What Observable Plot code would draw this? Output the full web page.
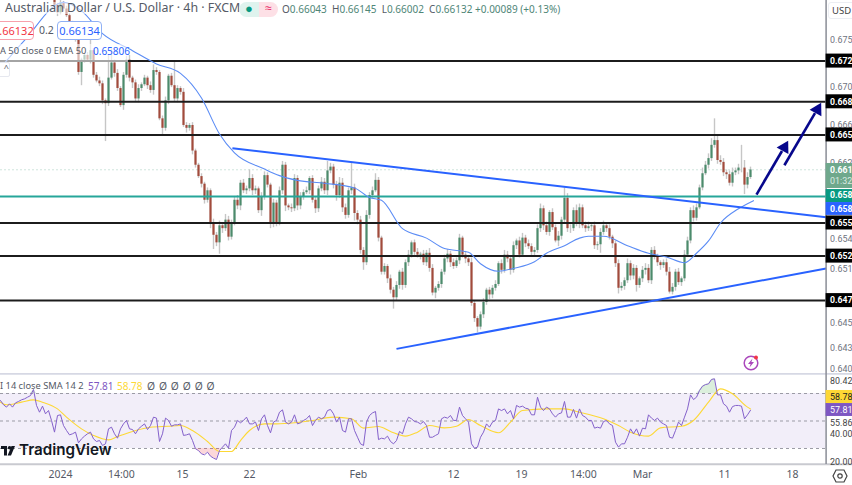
<!DOCTYPE html>
<html>
<head>
<meta charset="utf-8">
<script src="https://cdn.jsdelivr.net/npm/d3@7"></script>
<script src="https://cdn.jsdelivr.net/npm/@observablehq/plot@0.6"></script>
<style>
  html, body { margin: 0; padding: 0; background: #fff; overflow: hidden; width: 852px; height: 485px; }
  #wrap { position: relative; width: 852px; height: 485px; font-family: "Noto Sans", sans-serif; }
  #wrap svg { display: block; }
  .lab { position: absolute; white-space: nowrap; line-height: 1; }
</style>
</head>
<body>
<div id="wrap">
  <div id="chart_price"></div>
  <div id="chart_rsi"></div>

  <div class="lab" style="left:5px;top:2px;font-size:12.4px;color:#555a66;background:rgba(255,255,255,.55)">Australian Dollar / U.S. Dollar · 4h · FXCM</div>
  <div class="lab" style="left:239px;top:2px;width:20px;height:15px;background:#dff3ee;border-radius:8px 0 0 8px;text-align:center;color:#089981;font-size:13px">●</div>
  <div class="lab" style="left:259px;top:2px;width:19px;height:15px;background:#fde0e6;border-radius:0 8px 8px 0;text-align:center;color:#e91e63;font-size:12px">≈</div>
  <div class="lab" style="left:282px;top:4px;font-size:10px;color:#4f8677">
    <span style="color:#555a66">O</span>0.66043 <span style="color:#555a66">&nbsp;H</span>0.66145 <span style="color:#555a66">&nbsp;L</span>0.66002 <span style="color:#555a66">&nbsp;C</span>0.66132 +0.00089 (+0.13%)
  </div>

  <div class="lab" style="left:-8px;top:21px;width:39px;height:17px;line-height:17px;border:1px solid #f7a1ac;border-radius:4px;background:#fff;color:#f23645;font-size:11px;text-align:right;padding-right:1px">0.66132</div>
  <div class="lab" style="left:39px;top:25px;font-size:10.5px;color:#555a66">0.2</div>
  <div class="lab" style="left:57px;top:21px;width:43px;height:17px;line-height:17px;border:1px solid #8fb0f5;border-radius:4px;background:#fff;color:#2962ff;font-size:11px;text-align:center">0.66134</div>
  <div class="lab" style="left:0;top:44px;width:128px;height:18px;background:rgba(255,255,255,.6)"></div>
  <div class="lab" style="left:0;top:46px;font-size:9.3px;color:#555a66">A 50 close 0 EMA 50</div>
  <div class="lab" style="left:93px;top:46px;font-size:10px;color:#2962ff">0.65806</div>
  <div class="lab" style="left:-10px;top:62px;width:18px;height:13px;border:1px solid #e6e8ef;border-radius:2px;background:#fff;color:#555a66;font-size:9px;text-align:right">^</div>

  <div class="lab" style="left:828px;top:2px;width:30px;height:15px;line-height:15px;border:1px solid #eceef3;border-radius:3px;font-size:9.5px;color:#444;padding-left:3px;background:#fff">USD</div>

  <div class="lab" style="left:0;top:381px;font-size:9.3px;color:#555a66">I 14 close SMA 14 2</div>
  <div class="lab" style="left:88px;top:381px;font-size:10px;color:#7e57c2">57.81</div>
  <div class="lab" style="left:117px;top:381px;font-size:10px;color:#fdd835">58.78</div>
  <div class="lab" style="left:147px;top:381px;font-size:10.3px;color:#555a66;letter-spacing:.6px">Ø Ø Ø Ø Ø Ø</div>

  <svg class="lab" style="left:743px;top:355px" width="16" height="16" viewBox="0 0 16 16">
    <circle cx="8" cy="8" r="6.8" fill="#fff" stroke="#ab47bc" stroke-width="1.5"/>
    <path d="M9.5 3.5 L5 9 H7.6 L6.5 12.5 L11 7 H8.4 Z" fill="#ab47bc"/>
    <circle cx="13" cy="2.6" r="2" fill="#f23645"/>
  </svg>

  <svg class="lab" style="left:1px;top:446px" width="14" height="11" viewBox="0 0 14 11">
    <path d="M0 0 H6 V9.5 H3 V3 H0 Z M10.5 0 H14 L10 9.5 H6.6 Z" fill="#131722"/>
    <circle cx="8.6" cy="1.8" r="1.8" fill="#131722"/>
  </svg>
  <div class="lab" style="left:19px;top:442px;font-family:Inter,sans-serif;font-weight:600;font-size:15.2px;color:#131722">TradingView</div>

  <svg class="lab" style="left:832px;top:469px" width="20" height="14" viewBox="0 0 20 14">
    <path d="M4 1 H12 L15 7 L12 13 H4 L1 7 Z" fill="none" stroke="#444" stroke-width="1.2"/>
    <circle cx="8" cy="7" r="2.2" fill="none" stroke="#444" stroke-width="1.2"/>
  </svg>
</div>

<script>
// closes in 1/10000 of a dollar, one candle every bar from bar 18
const closePips = [
  6787,6779,6789,6783,6776,6767,6758,6752,6716,6729,6734,6729,6739,6713,6707,6704,6686,6683,6710,6726,
  6715,6699,6681,6713,6729,6710,6705,6688,6699,6703,6710,6702,6697,6718,6716,6667,6657,6686,6712,6702,
  6688,6699,6695,6660,6657,6660,6633,6618,6606,6598,6581,6591,6557,6544,6536,6554,6551,6560,6542,6557,
  6581,6575,6599,6591,6593,6604,6591,6593,6570,6585,6607,6597,6557,6578,6557,6591,6618,6575,6573,6572,
  6604,6575,6584,6589,6591,6604,6581,6572,6593,6600,6591,6612,6616,6597,6586,6599,6573,6565,6591,6594,
  6567,6560,6528,6515,6565,6586,6591,6602,6541,6505,6511,6498,6486,6478,6491,6505,6491,6515,6523,6536,
  6526,6523,6524,6515,6525,6509,6483,6488,6492,6505,6519,6524,6515,6511,6517,6541,6523,6519,6515,6472,
  6456,6447,6460,6473,6486,6481,6488,6492,6514,6507,6523,6519,6507,6533,6538,6523,6541,6535,6532,6526,
  6528,6551,6572,6554,6547,6568,6552,6538,6543,6560,6583,6551,6551,6570,6557,6573,6554,6551,6553,6554,
  6533,6534,6547,6554,6551,6542,6535,6514,6488,6490,6496,6514,6501,6509,6491,6498,6507,6509,6496,6528,
  6521,6515,6512,6515,6505,6484,6489,6505,6494,6498,6523,6538,6570,6562,6573,6594,6609,6618,6625,6639,
  6644,6623,6621,6610,6608,6599,6610,6612,6615,6615,6597,6605,6613
];
const upperWick = [
  3,2,4,2,3,2,3,4,3,2, 2,3,12,2,3,4,3,2,25,15, 3,4,2,3,4,5,2,3,4,2, 3,2,4,6,3,2,3,4,2,3,
  26,3,2,4,3,2,3,2,2,3, 2,3,2,4,3,5,3,6,4,3, 4,5,3,4,3,9,4,3,2,4, 4,3,2,4,3,4,4,3,2,4,
  4,3,5,3,4,2,3,4,3,5, 4,10,4,3,4,6,5,4,3,26, 4,3,4,3,5,3,4,7,3,2, 3,2,4,3,4,2,4,3,5,2,
  3,4,2,4,3,5,4,2,3,3, 4,5,3,4,3,4,2,4,3,5, 3,2,3,4,2,3,3,4,2,4, 5,4,3,4,2,4,5,3,4,3,
  3,4,5,3,4,2,4,3,5,3, 11,5,4,3,6,4,3,4,5,3, 4,3,4,5,3,4,2,3,4,4, 3,5,3,4,3,2,4,5,4,3,
  4,3,2,3,4,5,4,3,4,2, 5,4,3,5,4,3,6,4,5,7, 23,6,5,4,3,4,5,3,4,24, 8,5,3
];
const lowerWick = [
  3,4,2,3,2,3,2,4,3,14, 3,2,4,3,2,3,4,40,3,2, 4,3,2,5,3,4,6,3,4,3, 2,4,3,5,3,2,8,3,4,2,
  3,4,3,2,5,3,4,3,2,4, 4,3,6,15,4,12,5,3,4,3, 3,4,5,3,4,3,5,4,3,6, 4,3,6,5,4,3,4,6,3,4,
  3,5,4,3,2,4,3,5,4,3, 4,5,3,4,6,3,5,4,3,4, 8,5,4,8,3,4,3,2,4,3, 3,5,4,12,3,4,5,3,4,3,
  4,3,5,3,4,4,3,6,3,4, 3,4,5,3,2,4,3,5,4,3, 4,6,3,4,3,5,4,3,2,4, 3,4,5,3,4,3,2,4,3,5,
  4,3,4,5,3,4,3,2,6,4, 3,4,5,3,4,6,3,4,3,5, 4,5,9,3,4,3,5,4,6,3, 4,3,5,4,7,3,4,5,3,4,
  3,4,5,3,4,2,3,4,3,4, 3,2,3,4,3,2,3,2,4,3, 3,4,3,4,5,3,4,3,4,5, 10,4,2
];

const emaBars = [0,8,21,27,34,44,52,60,67,73,78,88,93,99,108,118,123,127,134,142,148,156,160,166,171,178,182,188,193,196,201,209,216,222,228,232,236,240,246,251];
const emaPips = [6721,6750,6790,6781,6757,6739,6725,6715,6689,6651,6631,6614,6607,6602,6599,6594,6584,6581,6551,6541,6530,6526,6514,6506,6509,6516,6525,6533,6541,6543,6543,6533,6525,6521,6515,6525,6538,6557,6572,6580.6];

const levelPrices = [0.6728, 0.6685, 0.6650, 0.6557, 0.6522, 0.6475];
const levelLabels = ["0.672", "0.668", "0.665", "0.655", "0.652", "0.647"];
const supportPrice = 0.6585;
const lastPrice = 0.66132;

const priceTicks = [0.6750, 0.6700, 0.6660, 0.6620, 0.6540, 0.6508, 0.6451, 0.6425, 0.6403];
const priceTickLabels = ["0.675", "0.670", "0.666", "0.662", "0.654", "0.651", "0.645", "0.643", "0.640"];

// the stacked price tags on the axis: [top, bottom, text price, fill, text colour, weight, label]
const axisTags = [
  [0.66198, 0.65934, 0.66124, "#6fa88c", "#fff", 700, "0.661"],
  [0.65923, 0.65786, 0.65860, "#089981", "#fff", 700, "0.658"],
  [0.65786, 0.65650, 0.65717, "#2962ff", "#fff", 700, "0.658"]
];
const countdownPrice = 0.66008;
const countdownLabel = "01:32";

// hand drawn lines on the chart: [bar, price, bar, price]
const trendLines = [
  [77.3, 0.6636, 275.2, 0.6563],
  [132, 0.6424, 275.2, 0.6509]
];
const arrowLines = [
  [252, 0.6587, 260.5, 0.6633],
  [261.3, 0.6618, 271.5, 0.6673]
];
const arrowTips = [
  [261.3, 0.6641],
  [272.3, 0.6681]
];

// RSI, one value per bar from bar 0
const rsiValues = [
  64.9,61.8,60.1,62.5,60.1,63.2,64.2,65.4,66.1,67.3,68.5,72.9,61.3,56.4,60.8,55.2,57.6,50.4,41.9,54,
  54.5,46.7,43.1,39.9,40.7,41.9,34.1,37,39,40.7,41.9,37,35.1,35.8,32.2,33.4,44.3,45.5,40.7,37.5,
  44.3,47.9,50.4,44.3,43.8,40.7,44.3,46.2,47.9,43.8,46.7,52.8,52.1,35.1,40.7,52.1,50.4,46.2,47.2,47.2,
  47.9,39.5,39.9,40.7,35.8,29.8,28.5,26.1,25.4,27.3,24.4,23,22,28.5,31,33.4,30.2,43.1,45.5,50.4,
  48.7,50.4,52.8,47.9,47.9,49.2,43.1,51.6,54.5,46.7,41.4,49.2,50.4,56.4,58.1,49.2,47.9,49.2,54.5,47.9,
  48.7,50.4,51.6,54,46.7,50.4,52.8,51.6,52.8,57.6,58.4,55.2,49.2,52.8,43.1,41.9,51.6,51.6,43.1,38.2,
  33.4,32.2,49.2,54,55.9,56.9,36.5,37.5,37,39,35.1,33.4,35.8,42.4,40.7,47.9,52.8,51.6,49.6,49.2,
  47.9,49.6,46.7,38.2,
  38.2,39.5,40.7,51.6,52.8,52.1,54,50.4,50.4,60.1,54,51.6,49.2,33.4,30.2,31,38.2,41.9,47.9,45.5,
  49.2,50.4,58.8,57.6,58.8,55.2,57.6,51.6,61.3,60.1,60.8,59.3,58.8,54.5,54.5,67.3,60.1,57.6,60.1,58.8,
  55.2,52.8,55.2,55.9,64.2,52.8,52.8,58.4,52.1,58.8,54,52.8,50.4,50.4,44.8,45.5,44.8,49.6,50.4,47.9,
  46.7,34.6,31,33.4,33.4,38.2,44.3,40.7,44.3,39,44.8,44.3,54.5,52.1,50.4,52.1,49.2,47.9,46.7,38.2,
  37.5,43.1,49.2,46.7,52.8,58.8,69,65.6,67.3,72.2,75.3,76.5,77,80.2,80.7,69,69,62.5,60.8,56.4,
  60.5,61.3,61.3,60.8,51.6,54.5,57.81
];
const smaBars = [0,2,7,11,14,19,22,27,31,36,39,44,50,56,60,64,69,73,77,80,83,88,92,98,104,111,117,121,126,130,135,139,143,148,152,156,160,166,170,174,182,188,193,201,206,210,216,220,227,231,236,240,244,249,250];
const smaValues = [63.7,61.8,63.7,65.4,63.7,58.8,52.8,44.3,39.5,36.3,38.7,42.4,45.5,46.2,46.7,43.1,35.1,27.8,27.8,35.8,43.1,47.9,47.9,48.7,50.4,52.8,51.6,44.8,46,42.4,39,41.9,46.7,45,46.2,51.1,46.7,41.4,49.2,57.6,58.8,58.8,56.4,51.6,46.7,41.9,39,45,46.2,50.4,63.7,73.4,69.8,60.1,58.78];
const rsiBands = [70, 50, 30];
const rsiTicks = [78.7, 48.2, 40.2, 20];
const rsiTickLabels = ["80.42", "55.86", "40.00", "20.00"];

const timeBars = [20, 40.3, 60.7, 83, 119.3, 151, 173.7, 194.3, 214, 241.3, 264];
const timeLabels = ["2024", "14:00", "15", "22", "Feb", "12", "19", "14:00", "Mar", "11", "18"];

const firstCandleBar = 18;
const firstOpen = 6792;
const axisBar = 275.2;
const lastBar = 284;

const chartFont = "'Noto Sans', sans-serif";
const axisFont = "Roboto, sans-serif";
const upColor = "#4c8b6c";
const downColor = "#a24b3c";
const lineBlue = "#2962ff";
const navy = "#07078c";
const teal = "#26a69a";

const candles = closePips.map((c, i) => {
  const open = i === 0 ? firstOpen : closePips[i - 1];
  return {
    bar: firstCandleBar + i,
    open: open / 10000,
    close: c / 10000,
    high: (Math.max(open, c) + upperWick[i]) / 10000,
    low: (Math.min(open, c) - lowerWick[i]) / 10000
  };
});
const ema = emaBars.map((b, i) => ({ bar: b, price: emaPips[i] / 10000 }));
const levels = levelPrices.map((p, i) => ({ price: p, label: levelLabels[i] }));
const axisTicks = priceTicks.map((p, i) => ({ price: p, label: priceTickLabels[i] }));
const tags = axisTags.map(d => ({ top: d[0], bottom: d[1], at: d[2], fill: d[3], ink: d[4], label: d[6] }));
const trends = trendLines.map(d => ({ x1: d[0], y1: d[1], x2: d[2], y2: d[3] }));
const arrows = arrowLines.map(d => ({ x1: d[0], y1: d[1], x2: d[2], y2: d[3] }));
const tips = arrowTips.map(d => ({ x: d[0], y: d[1] }));
const badgeHalf = 0.00074;

const priceChart = Plot.plot({
  width: 852,
  height: 373,
  margin: 0,
  style: { background: "#fff", fontFamily: chartFont, fontSize: 10 },
  x: { domain: [0, lastBar], range: [0, 852], axis: null },
  y: { domain: [0.6398, 0.6792], range: [373, 0], axis: null },
  marks: [
    Plot.ruleY([lastPrice], { x1: 0, x2: axisBar, stroke: "#cfe6dd", strokeDasharray: "2,2" }),
    Plot.ruleX(candles, { x: "bar", y1: "low", y2: "high", stroke: "#c6c6c6", strokeWidth: 1.4 }),
    Plot.ruleX(candles, {
      x: "bar",
      y1: "open",
      y2: "close",
      stroke: d => d.close >= d.open ? upColor : downColor,
      strokeWidth: 2.2
    }),
    Plot.ruleY(levels, { y: "price", x1: 0, x2: axisBar, stroke: "#1c1c1c", strokeWidth: 2 }),
    Plot.ruleY([supportPrice], { x1: 0, x2: axisBar, stroke: teal, strokeWidth: 2 }),
    Plot.line(ema, { x: "bar", y: "price", stroke: "#5b8cf5", strokeWidth: 1.1, curve: "monotone-x" }),
    Plot.link(trends, { x1: "x1", y1: "y1", x2: "x2", y2: "y2", stroke: lineBlue, strokeWidth: 2 }),
    Plot.link(arrows, { x1: "x1", y1: "y1", x2: "x2", y2: "y2", stroke: navy, strokeWidth: 2.6 }),
    Plot.dot(tips, { x: "x", y: "y", symbol: "triangle", r: 5, fill: navy, rotate: 29, dy: 4 }),
    Plot.ruleX([axisBar], { stroke: "#8a8d96", strokeWidth: 1.5 }),
    Plot.text(axisTicks, { x: axisBar, y: "price", text: "label", dx: 4, textAnchor: "start", fill: "#6f7380", fontFamily: axisFont, fontSize: 8.9 }),
    Plot.rectY(levels, { x1: axisBar, x2: lastBar, y1: d => d.price - badgeHalf, y2: d => d.price + badgeHalf, fill: "#000" }),
    Plot.text(levels, { x: axisBar, y: "price", text: "label", dx: 4, textAnchor: "start", fill: "#fff", fontFamily: axisFont, fontWeight: 700, fontSize: 8.7 }),
    Plot.rectY(tags, { x1: axisBar, x2: lastBar, y1: "top", y2: "bottom", fill: "fill" }),
    Plot.text(tags, { x: axisBar, y: "at", text: "label", dx: 4, textAnchor: "start", fill: "ink", fontFamily: axisFont, fontWeight: 700, fontSize: 8.7 }),
    Plot.text([countdownLabel], { x: axisBar, y: countdownPrice, dx: 4, textAnchor: "start", fill: "#dcebe3", fontFamily: axisFont, fontSize: 8.9 })
  ]
});
document.querySelector("#chart_price").append(priceChart);

const rsi = rsiValues.map((v, i) => ({ bar: i, value: v }));
const sma = smaBars.map((b, i) => ({ bar: b, value: smaValues[i] }));
const rsiAxis = rsiTicks.map((v, i) => ({ value: v, label: rsiTickLabels[i] }));

const rsiChart = Plot.plot({
  width: 852,
  height: 112,
  marginTop: 0,
  marginLeft: 0,
  marginRight: 0,
  marginBottom: 21,
  style: { background: "#fff", fontFamily: chartFont, fontSize: 10 },
  x: { domain: [0, lastBar], range: [0, 852] },
  y: { domain: [18.36, 84.55], axis: null },
  marks: [
    Plot.rectY([0], { x1: 0, x2: axisBar, y1: 30, y2: 70, fill: "#7e57c2", fillOpacity: 0.1 }),
    Plot.ruleY(rsiBands, { x1: 0, x2: axisBar, stroke: "#9b9ba5", strokeDasharray: "3,3" }),
    Plot.areaY(rsi, { x: "bar", y1: 70, y2: d => Math.max(d.value, 70), fill: "#4caf50", fillOpacity: 0.2 }),
    Plot.areaY(rsi, { x: "bar", y1: 30, y2: d => Math.min(d.value, 30), fill: "#f23645", fillOpacity: 0.2 }),
    Plot.line(sma, { x: "bar", y: "value", stroke: "#fdd835", strokeWidth: 1.1, curve: "monotone-x" }),
    Plot.line(rsi, { x: "bar", y: "value", stroke: "#8461cb", strokeWidth: 1 }),
    Plot.ruleY([84.4], { x1: 0, x2: lastBar, stroke: "#d6d8e4", strokeWidth: 2 }),
    Plot.ruleY([18.6], { x1: 0, x2: lastBar, stroke: "#c9cad0", strokeWidth: 2 }),
    Plot.axisX({
      ticks: timeBars,
      tickFormat: d => timeLabels[timeBars.indexOf(d)],
      tickSize: 0,
      tickPadding: 6,
      fontSize: 10.5,
      fill: "#555a66",
      label: null
    }),
    Plot.ruleX([axisBar], { y1: 18.36, y2: 84.55, stroke: "#8a8d96", strokeWidth: 1.5 }),
    Plot.text(rsiAxis, { x: axisBar, y: "value", text: "label", dx: 4, textAnchor: "start", fill: "#444", fontFamily: axisFont, fontSize: 8.9 }),
    Plot.rectY([58.78], { x1: axisBar, x2: lastBar, y1: 72.2, y2: 62.7, fill: "#fdd835" }),
    Plot.text(["58.78"], { x: axisBar, y: 67.5, dx: 4, textAnchor: "start", fill: "#222", fontFamily: axisFont, fontSize: 8.9 }),
    Plot.rectY([57.81], { x1: axisBar, x2: lastBar, y1: 62.7, y2: 53.3, fill: "#7e57c2" }),
    Plot.text(["57.81"], { x: axisBar, y: 58, dx: 4, textAnchor: "start", fill: "#fff", fontFamily: axisFont, fontSize: 8.9 })
  ]
});
document.querySelector("#chart_rsi").append(rsiChart);
</script>
</body>
</html>
